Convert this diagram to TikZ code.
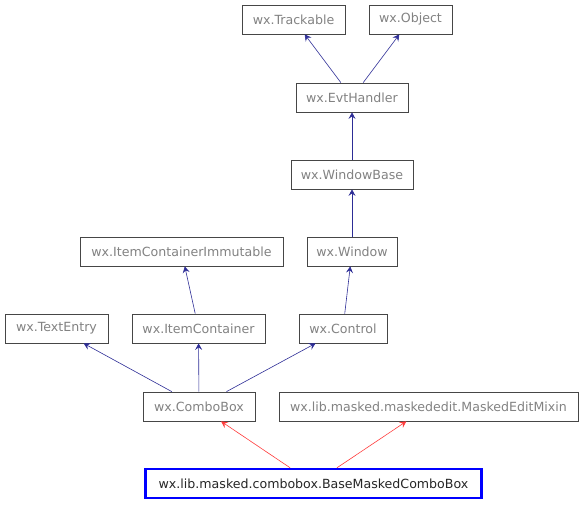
\documentclass[tikz,border=0pt]{standalone}
\usepackage{fontspec}
\setmainfont{DejaVu Sans}
\usetikzlibrary{arrows.meta,shadows}

\definecolor{clsLine}{RGB}{70,70,70}
\definecolor{clsText}{RGB}{130,130,130}
\definecolor{clsShadow}{RGB}{165,165,165}
\definecolor{inhEdge}{RGB}{45,45,150}
\definecolor{mixEdge}{RGB}{255,60,60}
\definecolor{selLine}{RGB}{0,0,255}

\tikzset{
  cls/.style={draw=clsLine, fill=white, text=clsText, line width=0.8pt,
    minimum height=29pt, inner xsep=0pt, inner ysep=0pt,
    font=\fontsize{12.6}{15}\selectfont,
    general shadow={shadow xshift=1.2pt, shadow yshift=-1.2pt, fill=clsShadow}},
  selcls/.style={draw=selLine, fill=white, text=black!85, line width=2.4pt,
    minimum height=29pt, inner xsep=0pt, inner ysep=0pt,
    font=\fontsize{12.6}{15}\selectfont},
  inh/.style={draw=inhEdge, line width=0.6pt, -{Stealth[length=6.5pt,width=7pt,inset=2.5pt]}},
  mix/.style={draw=mixEdge, line width=0.6pt, -{Stealth[length=6.5pt,width=7pt,inset=2.5pt]}}
}

\begin{document}
\begin{tikzpicture}[x=1pt, y=-1pt]
  \useasboundingbox (0,0) rectangle (583,504);
  % class boxes
  \node[cls, minimum width=103pt] (trackable) at (293.5,19.5) {wx.Trackable};
  \node[cls, minimum width=83pt] (object) at (410.5,19.5) {wx.Object};
  \node[cls, minimum width=112pt] (evthandler) at (352,97.5) {wx.EvtHandler};
  \node[cls, minimum width=122pt] (windowbase) at (352,174.5) {wx.WindowBase};
  \node[cls, minimum width=203pt] (itemimm) at (181.5,251.5) {wx.ItemContainerImmutable};
  \node[cls, minimum width=90pt] (window) at (352,251.5) {wx.Window};
  \node[cls, minimum width=103pt] (textentry) at (56.5,328.5) {wx.TextEntry};
  \node[cls, minimum width=133pt] (itemcont) at (198.5,328.5) {wx.ItemContainer};
  \node[cls, minimum width=88pt] (control) at (343,328.5) {wx.Control};
  \node[cls, minimum width=112pt] (combobox) at (199,406.5) {wx.ComboBox};
  \node[cls, minimum width=299pt] (maskmixin) at (428.5,406.5) {wx.lib.masked.maskededit.MaskedEditMixin};
  \node[selcls, minimum width=336pt] (basecombo) at (313.5,483.5) {wx.lib.masked.combobox.BaseMaskedComboBox};
  % inheritance
  \draw[inh] (evthandler) -- (trackable);
  \draw[inh] (evthandler) -- (object);
  \draw[inh] (windowbase) -- (evthandler);
  \draw[inh] (window) -- (windowbase);
  \draw[inh] (control) -- (window);
  \draw[inh] (itemcont) -- (itemimm);
  \draw[inh] (combobox) -- (textentry);
  \draw[inh] (combobox) -- (itemcont);
  \draw[inh] (combobox) -- (control);
  \draw[mix] (basecombo) -- (combobox);
  \draw[mix] (basecombo) -- (maskmixin);
\end{tikzpicture}
\end{document}
